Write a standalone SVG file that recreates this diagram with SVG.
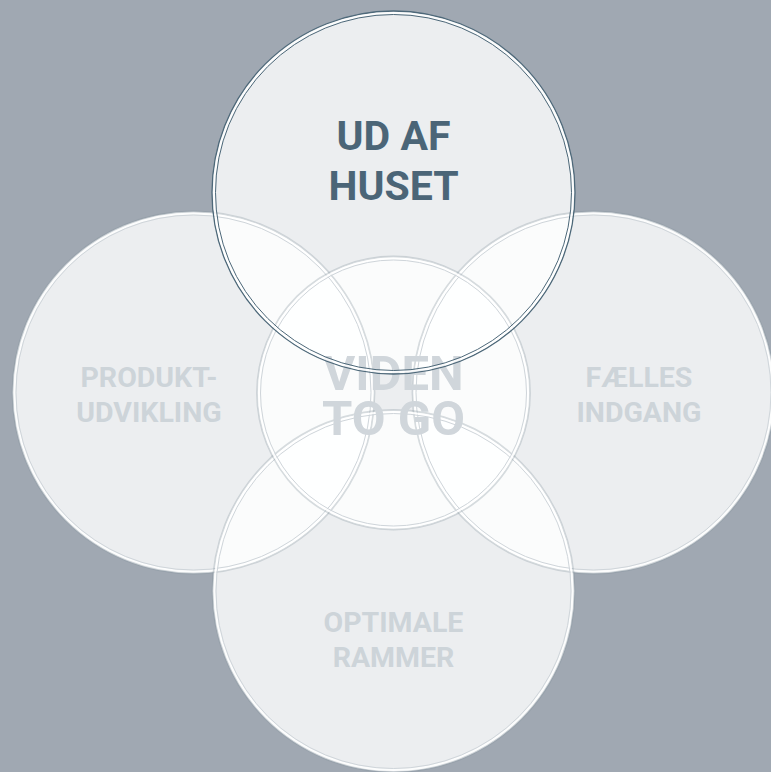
<svg xmlns="http://www.w3.org/2000/svg" width="771" height="772" viewBox="0 0 771 772">
<style>
.disc{fill:#ffffff;fill-opacity:0.8;stroke:none}
.outer{fill:none;stroke:#7f8d99;stroke-opacity:0.3;stroke-width:1.8}
.gap{fill:none;stroke:#ffffff;stroke-opacity:0.85;stroke-width:2}
.inner{fill:none;stroke:#cfd5da;stroke-width:1}
.touter{fill:none;stroke:#4d6879;stroke-width:1.3}
.tinner{fill:none;stroke:#4d6879;stroke-width:1}
.lbl{font-family:Roboto,"Liberation Sans",sans-serif;font-weight:bold;text-anchor:middle;fill:#cdd4d9;font-size:28.5px}
.big{font-size:49px;fill:#d0d6db}
.main{font-size:41px;fill:#4b6577}
</style>
<rect width="771" height="772" fill="#a0a8b2"/>
<g id="fills">
<circle class="disc" cx="193.5" cy="392.5" r="181"/>
<circle class="disc" cx="593.5" cy="392.5" r="181"/>
<circle class="disc" cx="393.5" cy="591" r="181"/>
<circle class="disc" cx="393.5" cy="393" r="136.5"/>
<circle class="disc" cx="393.5" cy="192.5" r="181.5"/>
</g>
<g id="produktudvikling">
<circle class="outer" cx="193.5" cy="392.5" r="181"/>
<circle class="gap" cx="193.5" cy="392.5" r="179"/>
<circle class="inner" cx="193.5" cy="392.5" r="177.5"/>
<text class="lbl" x="149" y="387">PRODUKT-</text>
<text class="lbl" x="149" y="421.5">UDVIKLING</text>
</g>
<g id="faelles-indgang">
<circle class="outer" cx="593.5" cy="392.5" r="181"/>
<circle class="gap" cx="593.5" cy="392.5" r="179"/>
<circle class="inner" cx="593.5" cy="392.5" r="177.5"/>
<text class="lbl" x="639" y="387">FÆLLES</text>
<text class="lbl" x="639" y="421.5">INDGANG</text>
</g>
<g id="optimale-rammer">
<circle class="outer" cx="393.5" cy="591" r="181"/>
<circle class="gap" cx="393.5" cy="591" r="179"/>
<circle class="inner" cx="393.5" cy="591" r="177.5"/>
<text class="lbl" x="393.5" y="632">OPTIMALE</text>
<text class="lbl" x="393.5" y="667">RAMMER</text>
</g>
<g id="viden-to-go">
<text class="lbl big" x="393.5" y="390">VIDEN</text>
<text class="lbl big" x="393.5" y="435">TO GO</text>
<circle class="outer" cx="393.5" cy="393" r="136.5"/>
<circle class="gap" cx="393.5" cy="393" r="134.5"/>
<circle class="inner" cx="393.5" cy="393" r="133"/>
</g>
<g id="ud-af-huset">
<circle class="touter" cx="393.5" cy="192.5" r="181.5"/>
<circle class="gap" cx="393.5" cy="192.5" r="179.5"/>
<circle class="tinner" cx="393.5" cy="192.5" r="178"/>
<text class="lbl main" x="393.5" y="150">UD AF</text>
<text class="lbl main" x="393.5" y="200">HUSET</text>
</g>
</svg>
